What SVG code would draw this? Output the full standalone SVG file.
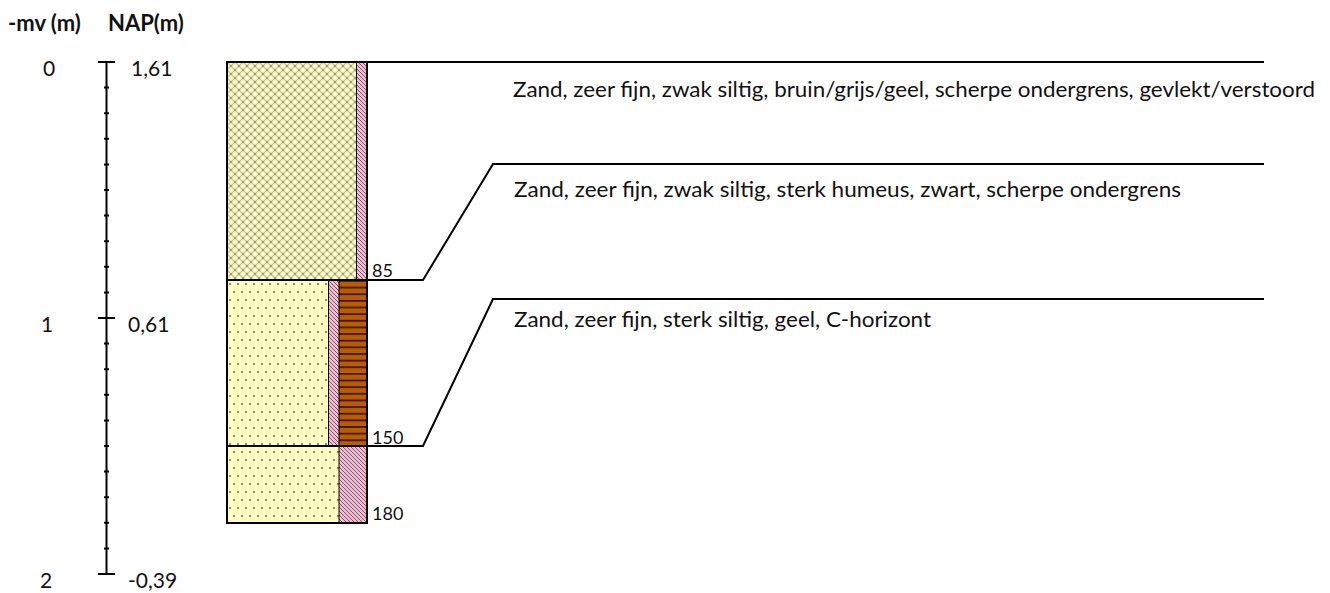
<svg xmlns="http://www.w3.org/2000/svg" width="1330" height="593" viewBox="0 0 1330 593">
  <style>
    text { font-family: Lato, "Liberation Sans", sans-serif; fill: #111; }
    .hdr { font-size: 22px; font-weight: 700; }
    .ax { font-size: 21px; }
    .dep { font-size: 18px; }
    .desc { font-size: 21px; }
    .ln { fill: none; stroke: #000; stroke-width: 2; }
    .axis { fill: none; stroke: #000; stroke-width: 2; }
    .minor { stroke: #000; stroke-width: 2; }
    .layer { stroke: #000; stroke-width: 2; }
    .div { stroke: #000; stroke-width: 1; }
  </style>
  <defs>
    <!-- sand with gravel net: pale yellow with diagonal mesh -->
    <pattern id="pMesh" patternUnits="userSpaceOnUse" x="227" y="62" width="8" height="8">
      <rect width="8" height="8" fill="#FFFFC4"/>
      <path d="M0,0 L8,8 M8,0 L0,8" stroke="#C2C29C" stroke-width="1.3" fill="none"/>
      <circle cx="4" cy="4" r="0.8" fill="#6A6A48"/>
      <circle cx="0" cy="0" r="0.8" fill="#6A6A48"/>
      <circle cx="8" cy="0" r="0.8" fill="#6A6A48"/>
      <circle cx="0" cy="8" r="0.8" fill="#6A6A48"/>
      <circle cx="8" cy="8" r="0.8" fill="#6A6A48"/>
    </pattern>
    <!-- fine sand: pale yellow with staggered dots -->
    <pattern id="pDots" patternUnits="userSpaceOnUse" x="227" y="280" width="8" height="16">
      <rect width="8" height="16" fill="#FFFFC4"/>
      <circle cx="3" cy="4" r="1" fill="#66664C"/>
      <circle cx="7" cy="12" r="1" fill="#66664C"/>
    </pattern>
    <!-- silt admixture: pink with diagonal hatching -->
    <pattern id="pPink" patternUnits="userSpaceOnUse" width="4" height="4">
      <rect width="4" height="4" fill="#F2BCD4"/>
      <path d="M-1,-1 L5,5 M-1,3 L1,5 M3,-1 L5,1" stroke="#7A5A6A" stroke-width="1" fill="none"/>
    </pattern>
    <!-- humus: brown horizontal bands -->
    <pattern id="pHumus" patternUnits="userSpaceOnUse" x="339" y="280" width="8" height="6.64">
      <rect width="8" height="6.64" fill="#BA5C04"/>
      <rect width="8" height="1.8" fill="#3C1800"/>
    </pattern>
  </defs>

  <!-- column headers -->
  <g id="headers">
    <text class="hdr" x="8" y="31">-mv (m)</text>
    <text class="hdr" x="108" y="31">NAP(m)</text>
  </g>

  <!-- depth axis -->
  <g id="axis">
    <line class="axis" x1="106.5" y1="62" x2="106.5" y2="574"/>
    <path class="axis" d="M98,62 H115 M98,318 H115 M98,574 H115"/>
    <path class="minor" d="M104,87.6 H109 M104,113.2 H109 M104,138.8 H109 M104,164.4 H109 M104,190 H109 M104,215.6 H109 M104,241.2 H109 M104,266.8 H109 M104,292.4 H109
      M104,343.6 H109 M104,369.2 H109 M104,394.8 H109 M104,420.4 H109 M104,446 H109 M104,471.6 H109 M104,497.2 H109 M104,522.8 H109 M104,548.4 H109"/>
    <text class="ax" x="43" y="76">0</text>
    <text class="ax" x="131" y="76">1,61</text>
    <text class="ax" x="41" y="332">1</text>
    <text class="ax" x="128" y="332">0,61</text>
    <text class="ax" x="40" y="588">2</text>
    <text class="ax" x="128" y="588">-0,39</text>
  </g>

  <!-- layer 0-85 cm -->
  <g id="layer1">
    <rect x="227" y="62" width="129.5" height="218" fill="url(#pMesh)"/>
    <rect x="356.5" y="62" width="10.5" height="218" fill="url(#pPink)"/>
    <line class="div" x1="356.5" y1="62" x2="356.5" y2="280"/>
    <rect class="layer" x="227" y="62" width="140" height="218" fill="none"/>
    <text class="dep" x="372" y="277">85</text>
  </g>

  <!-- layer 85-150 cm -->
  <g id="layer2">
    <rect x="227" y="280" width="101.5" height="166" fill="url(#pDots)"/>
    <rect x="328.5" y="280" width="10.5" height="166" fill="url(#pPink)"/>
    <rect x="339" y="280" width="28" height="166" fill="url(#pHumus)"/>
    <line class="div" x1="328.5" y1="280" x2="328.5" y2="446"/>
    <line class="div" x1="339" y1="280" x2="339" y2="446"/>
    <rect class="layer" x="227" y="280" width="140" height="166" fill="none"/>
    <text class="dep" x="372" y="444">150</text>
  </g>

  <!-- layer 150-180 cm -->
  <g id="layer3">
    <rect x="227" y="446" width="112" height="77" fill="url(#pDots)"/>
    <rect x="339" y="446" width="28" height="77" fill="url(#pPink)"/>
    <line class="div" x1="339" y1="446" x2="339" y2="523"/>
    <rect class="layer" x="227" y="446" width="140" height="77" fill="none"/>
    <text class="dep" x="372" y="520">180</text>
  </g>

  <!-- leader lines from layer boundaries to descriptions -->
  <g id="connectors">
    <path class="ln" d="M367,62 H1264"/>
    <path class="ln" d="M367,280 H423 L493,164 H1264"/>
    <path class="ln" d="M367,446 H423 L493,299 H1264"/>
  </g>

  <g id="desc1">
    <text class="desc" x="513" y="97" textLength="802" lengthAdjust="spacingAndGlyphs">Zand, zeer fijn, zwak siltig, bruin/grijs/geel, scherpe ondergrens, gevlekt/verstoord</text>
  </g>
  <g id="desc2">
    <text class="desc" x="514" y="197" textLength="667" lengthAdjust="spacingAndGlyphs">Zand, zeer fijn, zwak siltig, sterk humeus, zwart, scherpe ondergrens</text>
  </g>
  <g id="desc3">
    <text class="desc" x="514" y="327" textLength="417" lengthAdjust="spacingAndGlyphs">Zand, zeer fijn, sterk siltig, geel, C-horizont</text>
  </g>
</svg>
